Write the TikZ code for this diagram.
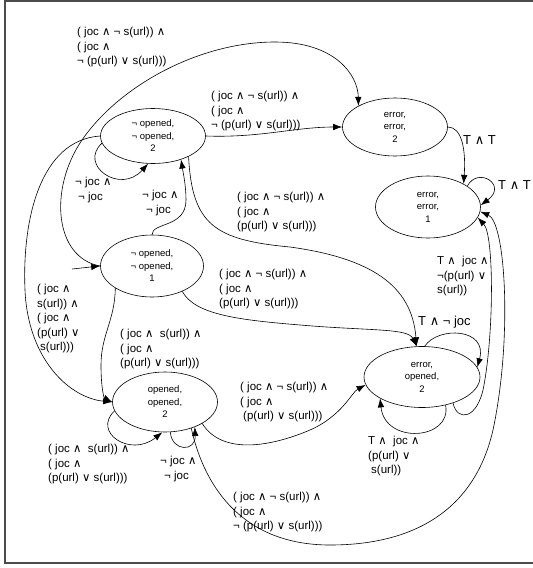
\documentclass[tikz,border=0pt]{standalone}
\usepackage{fontspec}
\setmainfont{Liberation Sans}
\newfontfamily\symf{DejaVu Sans}
\usetikzlibrary{arrows.meta,shapes.geometric}
\newcommand{\An}{{\symf ∧}}
\newcommand{\Or}{{\symf ∨}}

\begin{document}
\begin{tikzpicture}[x=1pt,y=-1pt,
  st/.style={draw,ellipse,inner sep=0pt,align=center,line width=0.6pt,
             font=\fontsize{9.5}{12.5}\selectfont},
  lbl/.style={anchor=north west,inner sep=0pt,align=left,
              font=\fontsize{11.5}{14.5}\selectfont},
  biglbl/.style={lbl,font=\fontsize{13}{15}\selectfont},
  trans/.style={-{Latex[length=9pt,width=6.5pt]},line width=0.6pt},
  frameline/.style={draw=black!70,line width=2pt}
]
  \useasboundingbox (0,0) rectangle (533,568);
  \draw[frameline] (533,1) -- (5,1) -- (5,563) -- (533,563);

  \node[st,minimum width=105pt,minimum height=55pt] (n2) at (153,136) {¬ opened,\\¬ opened,\\2};
  \node[st,minimum width=105pt,minimum height=58pt] (e2) at (395,127) {error,\\error,\\2};
  \node[st,minimum width=105pt,minimum height=62pt] (e1) at (428,207) {error,\\error,\\1};
  \node[st,minimum width=103pt,minimum height=62pt] (n1) at (152,266) {¬ opened,\\¬ opened,\\1};
  \node[st,minimum width=116pt,minimum height=61pt] (eo) at (422,377) {error,\\opened,\\2};
  \node[st,minimum width=105pt,minimum height=60pt] (oo) at (165,402) {opened,\\opened,\\2};
  \coordinate (init) at (72,269);

  \draw[trans] (init) -- (n1.west);
  \draw[trans] (n1.west) .. controls (55,258) and (48,190) .. (82,140)
    .. controls (120,85) and (200,42) .. (275,42)
    .. controls (335,42) and (358,75) .. (e2.150);
  \draw[trans] (n2.east) .. controls (260,138) and (295,127) .. (e2.west);
  \draw[trans] (n2.188) .. controls (78,165) and (120,195) .. (n2.-100);
  \draw[trans] (n1.north) .. controls (152,222) and (186,228) .. (186,200)
    .. controls (186,185) and (183,172) .. (n2.-40);
  \draw[trans] (n2.-30) .. controls (192,225) and (215,240) .. (290,247)
    .. controls (370,258) and (412,285) .. (eo.100);
  \draw[trans] (n1.-40) .. controls (195,315) and (240,320) .. (300,325)
    .. controls (370,331) and (408,328) .. (eo.100);
  \draw[trans] (n2.west) .. controls (40,140) and (22,220) .. (25,290)
    .. controls (28,360) and (70,398) .. (oo.west);
  \draw[trans] (n1.-149) .. controls (115,320) and (101,335) .. (101,365)
    .. controls (101,388) and (104,398) .. (oo.west);
  \draw[trans] (oo.190) .. controls (92,432) and (130,458) .. (oo.-95);
  \draw[trans] (oo.-80) .. controls (172,452) and (196,452) .. (oo.-40);
  \draw[trans] (oo.-30) .. controls (222,455) and (270,447) .. (310,430)
    .. controls (342,416) and (352,392) .. (eo.188);
  \draw[trans] (oo.-45) .. controls (205,490) and (245,545) .. (330,545)
    .. controls (420,545) and (480,505) .. (495,420)
    .. controls (512,330) and (505,222) .. (e1.-5);
  \draw[trans] (eo.-40) .. controls (457,422) and (478,420) .. (484,385)
    .. controls (494,330) and (494,235) .. (e1.-12);
  \draw[trans] (eo.-50) .. controls (452,440) and (385,445) .. (eo.-153);
  \draw[trans] (eo.85) .. controls (438,326) and (488,328) .. (eo.10);
  \draw[trans] (e2.east) .. controls (462,127) and (466,150) .. (e1.33);
  \draw[trans] (e1.28) .. controls (478,166) and (508,185) .. (e1.2);

  \node[lbl] (lab-n1e2) at (77,27) {( joc \An{} ¬ s(url)) \An\\( joc \An\\¬ (p(url) \Or{} s(url)))};
  \node[lbl] (lab-n2e2) at (211,91) {( joc \An{} ¬ s(url)) \An\\( joc \An\\¬ (p(url) \Or{} s(url)))};
  \node[lbl] (lab-n2n2) at (75,177) {¬ joc \An\\\hspace{3pt}¬ joc};
  \node[lbl] (lab-n1n2) at (142,190) {¬ joc \An\\\hspace{4pt}¬ joc};
  \node[lbl] (lab-n2eo) at (237,192) {( joc \An{} ¬ s(url)) \An\\( joc \An\\(p(url) \Or{} s(url)))};
  \node[lbl] (lab-n1eo) at (219,269) {( joc \An{} ¬ s(url)) \An\\( joc \An\\(p(url) \Or{} s(url)))};
  \node[lbl] (lab-n2oo) at (37,284) {( joc \An\\s(url)) \An\\( joc \An\\(p(url) \Or\\\hspace{3pt}s(url)))};
  \node[lbl] (lab-n1oo) at (120,329) {( joc \An{} \ s(url)) \An\\( joc \An\\(p(url) \Or{} s(url)))};
  \node[lbl] (lab-ooeo) at (240,382) {( joc \An{} ¬ s(url)) \An\\( joc \An\\\hspace{3pt}(p(url) \Or{} s(url)))};
  \node[lbl] (lab-oooo) at (48,444) {( joc \An{} \ s(url)) \An\\( joc \An\\(p(url) \Or{} s(url)))};
  \node[lbl] (lab-oooo2) at (160,456) {¬ joc \An\\\hspace{4pt}¬ joc};
  \node[lbl] (lab-ooe1) at (233,492) {( joc \An{} ¬ s(url)) \An\\( joc \An\\¬ (p(url) \Or{} s(url)))};
  \node[lbl] (lab-eoeo) at (368,436) {T \An{} \ joc \An\\(p(url) \Or\\\hspace{3pt}s(url))};
  \node[lbl] (lab-eoe1) at (437,256) {T \An{} \ joc \An\\¬(p(url) \Or\\s(url))};
  \node[biglbl] (lab-eoeo2) at (418,316) {T \An{} ¬ joc};
  \node[biglbl] (lab-e2e1) at (463,135) {T \An{} T};
  \node[biglbl] (lab-e1e1) at (498,180) {T \An{} T};
\end{tikzpicture}
\end{document}
